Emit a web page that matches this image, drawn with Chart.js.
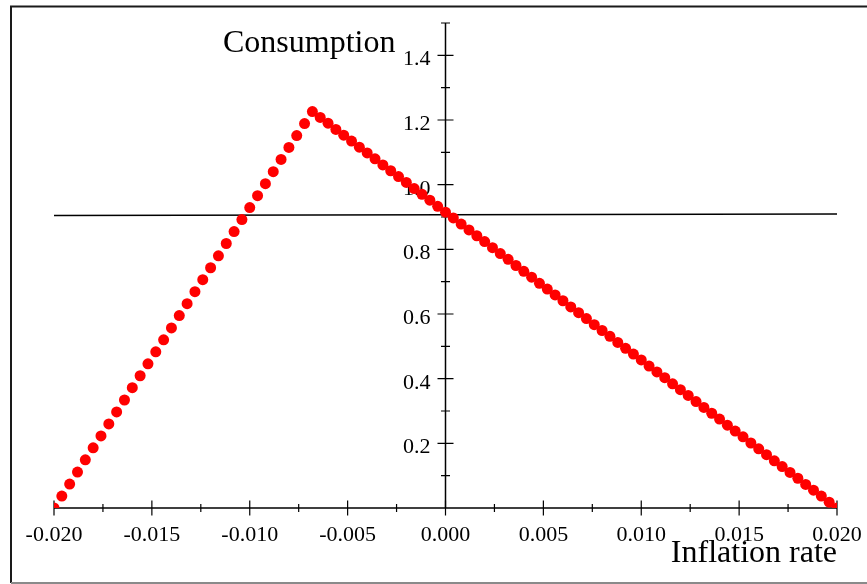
<!DOCTYPE html>
<html>
<head>
<meta charset="utf-8">
<script src="https://cdn.jsdelivr.net/npm/chart.js@4"></script>
<style>
    html, body { margin: 0; padding: 0; background: #ffffff; }
    canvas { display: block; }
</style>
</head>
<body>
<canvas id="consumptionChart" width="867" height="584"></canvas>
<script>
const inflationRates = [
    -0.0200, -0.0196, -0.0192, -0.0188, -0.0184, -0.0180, -0.0176, -0.0172, -0.0168, -0.0164,
    -0.0160, -0.0156, -0.0152, -0.0148, -0.0144, -0.0140, -0.0136, -0.0132, -0.0128, -0.0124,
    -0.0120, -0.0116, -0.0112, -0.0108, -0.0104, -0.0100, -0.0096, -0.0092, -0.0088, -0.0084,
    -0.0080, -0.0076, -0.0072, -0.0068, -0.0064, -0.0060, -0.0056, -0.0052, -0.0048, -0.0044,
    -0.0040, -0.0036, -0.0032, -0.0028, -0.0024, -0.0020, -0.0016, -0.0012, -0.0008, -0.0004,
    0.0000, 0.0004, 0.0008, 0.0012, 0.0016, 0.0020, 0.0024, 0.0028, 0.0032, 0.0036,
    0.0040, 0.0044, 0.0048, 0.0052, 0.0056, 0.0060, 0.0064, 0.0068, 0.0072, 0.0076,
    0.0080, 0.0084, 0.0088, 0.0092, 0.0096, 0.0100, 0.0104, 0.0108, 0.0112, 0.0116,
    0.0120, 0.0124, 0.0128, 0.0132, 0.0136, 0.0140, 0.0144, 0.0148, 0.0152, 0.0156,
    0.0160, 0.0164, 0.0168, 0.0172, 0.0176, 0.0180, 0.0184, 0.0188, 0.0192, 0.0196,
    0.0200
];

const consumption = [
    0.000, 0.037, 0.074, 0.111, 0.149, 0.186, 0.223, 0.260, 0.297, 0.334,
    0.372, 0.409, 0.446, 0.483, 0.520, 0.557, 0.595, 0.632, 0.669, 0.706,
    0.743, 0.780, 0.818, 0.855, 0.892, 0.929, 0.966, 1.003, 1.040, 1.078,
    1.115, 1.152, 1.189, 1.226, 1.208, 1.190, 1.171, 1.153, 1.135, 1.116,
    1.098, 1.080, 1.061, 1.043, 1.025, 1.007, 0.988, 0.970, 0.952, 0.933,
    0.915, 0.897, 0.878, 0.860, 0.842, 0.824, 0.805, 0.787, 0.769, 0.750,
    0.732, 0.714, 0.695, 0.677, 0.659, 0.641, 0.622, 0.604, 0.586, 0.567,
    0.549, 0.531, 0.512, 0.494, 0.476, 0.458, 0.439, 0.421, 0.403, 0.384,
    0.366, 0.348, 0.329, 0.311, 0.293, 0.275, 0.256, 0.238, 0.220, 0.201,
    0.183, 0.165, 0.146, 0.128, 0.110, 0.092, 0.073, 0.055, 0.037, 0.018,
    0.000
];

// the flat reference line, ends
const levelLineX = [-0.020, 0.020];
const levelLineY = [0.905, 0.909];

// axis ranges and ticks
const xRange = [-0.020, 0.020];
const yRange = [0, 1.5];
const xMajorTicks = [-0.020, -0.015, -0.010, -0.005, 0.000, 0.005, 0.010, 0.015, 0.020];
const xTickLabels = ['-0.020', '-0.015', '-0.010', '-0.005', '0.000', '0.005', '0.010', '0.015', '0.020'];
const xMinorTicks = [-0.0175, -0.0125, -0.0075, -0.0025, 0.0025, 0.0075, 0.0125, 0.0175];
const yMajorTicks = [0.2, 0.4, 0.6, 0.8, 1.0, 1.2, 1.4];
const yTickLabels = ['0.2', '0.4', '0.6', '0.8', '1.0', '1.2', '1.4'];
const yMinorTicks = [0.1, 0.3, 0.5, 0.7, 0.9, 1.1, 1.3, 1.5];

const xTitle = 'Inflation rate';
const yTitle = 'Consumption';

const serif = '"Liberation Serif", "DejaVu Serif", serif';

// axes crossing at the origin, drawn from the chart's own scales
const crossAxesPlugin = {
    id: 'crossAxes',
    beforeDatasetsDraw(chart) {
        const { ctx, scales: { x, y } } = chart;
        const x0 = x.getPixelForValue(0);
        const y0 = y.getPixelForValue(0);

        ctx.save();
        ctx.strokeStyle = '#000000';
        ctx.lineWidth = 1.5;

        ctx.beginPath();
        ctx.moveTo(x.getPixelForValue(xRange[0]), y0);
        ctx.lineTo(x.getPixelForValue(xRange[1]), y0);
        ctx.moveTo(x0, y.getPixelForValue(yRange[0]));
        ctx.lineTo(x0, y.getPixelForValue(yRange[1]));
        ctx.stroke();

        ctx.lineWidth = 1.2;
        ctx.beginPath();
        xMajorTicks.forEach(v => {
            const px = x.getPixelForValue(v);
            ctx.moveTo(px, y0 - 7.5);
            ctx.lineTo(px, y0 + 7.5);
        });
        xMinorTicks.forEach(v => {
            const px = x.getPixelForValue(v);
            ctx.moveTo(px, y0 - 4);
            ctx.lineTo(px, y0 + 4);
        });
        yMajorTicks.forEach(v => {
            const py = y.getPixelForValue(v);
            ctx.moveTo(x0 - 8, py);
            ctx.lineTo(x0 + 8, py);
        });
        yMinorTicks.forEach(v => {
            const py = y.getPixelForValue(v);
            ctx.moveTo(x0 - 4.5, py);
            ctx.lineTo(x0 + 4.5, py);
        });
        ctx.stroke();

        ctx.fillStyle = '#000000';
        ctx.font = '22px ' + serif;
        ctx.textBaseline = 'alphabetic';
        ctx.textAlign = 'center';
        xMajorTicks.forEach((v, i) => {
            ctx.fillText(xTickLabels[i], x.getPixelForValue(v), y0 + 33);
        });
        ctx.textAlign = 'right';
        yMajorTicks.forEach((v, i) => {
            ctx.fillText(yTickLabels[i], x0 - 15, y.getPixelForValue(v) + 10);
        });

        ctx.font = '32px ' + serif;
        ctx.textAlign = 'left';
        ctx.fillText(yTitle, 223, 52);
        ctx.textAlign = 'right';
        ctx.fillText(xTitle, x.getPixelForValue(xRange[1]), 562);
        ctx.restore();
    },
    afterDraw(chart) {
        const { ctx } = chart;
        ctx.save();
        ctx.lineWidth = 2;
        ctx.strokeStyle = '#1a1a1a';
        ctx.beginPath();
        ctx.moveTo(11, 583);
        ctx.lineTo(11, 6.5);
        ctx.lineTo(867, 6.5);
        ctx.stroke();
        ctx.strokeStyle = '#8a8a8a';
        ctx.beginPath();
        ctx.moveTo(11, 583);
        ctx.lineTo(867, 583);
        ctx.stroke();
        ctx.restore();
    }
};

const ctx = document.getElementById('consumptionChart');

new Chart(ctx, {
    type: 'scatter',
    data: {
        datasets: [
            {
                label: yTitle,
                data: inflationRates.map((r, i) => ({ x: r, y: consumption[i] })),
                backgroundColor: '#ff0000',
                borderWidth: 0,
                pointRadius: 5.5,
                pointHoverRadius: 5.5,
                showLine: false,
                clip: 0,
                order: 0
            },
            {
                label: 'level',
                type: 'line',
                data: levelLineX.map((v, i) => ({ x: v, y: levelLineY[i] })),
                borderColor: '#000000',
                borderWidth: 1.5,
                pointRadius: 0,
                fill: false,
                order: 1
            }
        ]
    },
    options: {
        responsive: false,
        animation: false,
        layout: {
            padding: { left: 54, right: 30, top: 23, bottom: 76 }
        },
        scales: {
            x: { type: 'linear', min: xRange[0], max: xRange[1], display: false },
            y: { type: 'linear', min: yRange[0], max: yRange[1], display: false }
        },
        plugins: {
            legend: { display: false },
            tooltip: { enabled: false }
        }
    },
    plugins: [crossAxesPlugin]
});
</script>
</body>
</html>
